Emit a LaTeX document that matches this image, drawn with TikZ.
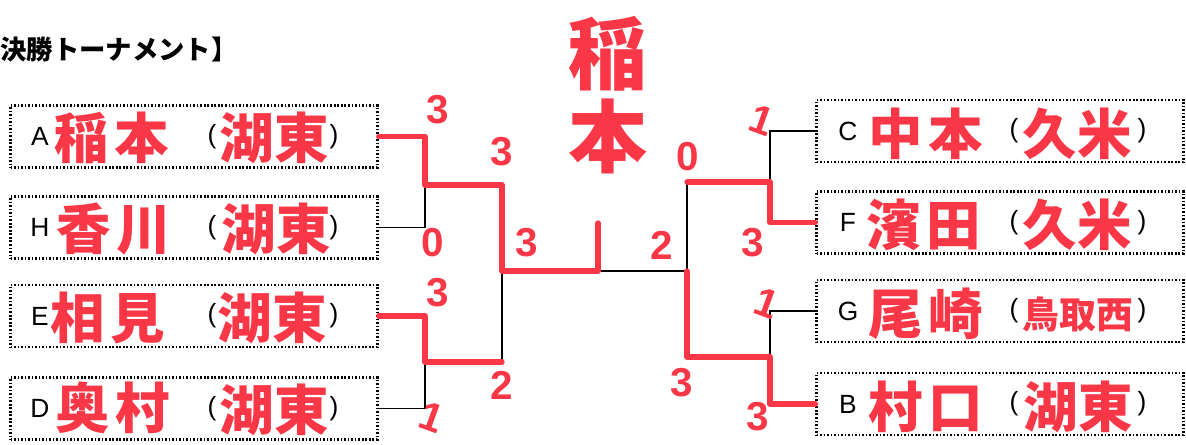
\documentclass[tikz,border=0pt]{standalone}
\usepackage{fontspec}
\setmainfont{Liberation Sans}
\newfontfamily\jpfont{Noto Sans CJK JP}
\usetikzlibrary{positioning}
\definecolor{pen}{RGB}{250,55,70}

\begin{document}
\begin{tikzpicture}[x=0.02cm, y=-0.02cm,
  box/.style={draw, line width=1.4pt, dash pattern=on 0.9pt off 1.1pt,
    minimum width=7.34cm, minimum height=1.24cm, inner sep=0pt},
  seed/.style={font=\fontsize{15}{15}\selectfont, inner sep=0pt},
  paren/.style={font=\fontsize{15}{15}\selectfont, inner sep=0pt},
  hand/.style={text=pen, font=\jpfont\bfseries\fontsize{31}{31}\selectfont, inner sep=0pt},
  score/.style={text=pen, font=\bfseries\fontsize{23}{23}\selectfont, inner sep=0pt},
  wire/.style={line width=0.7pt},
  win/.style={draw=pen, line width=3pt, line cap=round, line join=round}]
\useasboundingbox (0,0) rectangle (1186,444);
% heading
\node[anchor=west, inner sep=0pt, font=\jpfont\bfseries\fontsize{15}{15}\selectfont]
  (title) at (0,50) {決勝トーナメント】};
% entry boxes, left side
\node[box] (boxA) at (194,136.5) {};
\node[box] (boxH) at (194,227.5) {};
\node[box] (boxE) at (194,316) {};
\node[box] (boxD) at (194,408.5) {};
% entry boxes, right side
\node[box] (boxC) at (1000,131) {};
\node[box] (boxF) at (1000,222.5) {};
\node[box] (boxG) at (1000,311) {};
\node[box] (boxB) at (1000,404) {};
% printed seeds and brackets
\node[seed] (labA) at (40,136.5) {A};
\node[seed] (labH) at (40,227.5) {H};
\node[seed] (labE) at (40,316) {E};
\node[seed] (labD) at (40,408.5) {D};
\node[seed] (labC) at (848,131) {C};
\node[seed] (labF) at (848,222.5) {F};
\node[seed] (labG) at (848,311) {G};
\node[seed] (labB) at (848,404) {B};
\foreach \b/\y in {A/136.5, H/227.5, E/316, D/408.5} {
  \node[paren] (opn\b) at (212,\y) {(};
  \node[paren] (cls\b) at (334,\y) {)};
}
\foreach \b/\y in {C/131, F/222.5, G/311, B/404} {
  \node[paren] (opn\b) at (1014,\y) {(};
  \node[paren] (cls\b) at (1142,\y) {)};
}
% junctions of the draw
\coordinate (qa) at (425,185);
\coordinate (qb) at (425,362);
\coordinate (sl) at (502,271);
\coordinate (cup) at (598,223);
\coordinate (sr) at (687,271);
\coordinate (qc) at (770,182);
\coordinate (qd) at (770,357);
\draw[wire] (boxA.east) -| (qa) |- (boxH.east);
\draw[wire] (boxE.east) -| (qb) |- (boxD.east);
\draw[wire] (qa) -| (sl) |- (qb);
\draw[wire] (sl) -- (sr);
\draw[wire] (sl -| cup) -- (cup);
\draw[wire] (boxC.west) -| (qc) |- (boxF.west);
\draw[wire] (boxG.west) -| (qd) |- (boxB.west);
\draw[wire] (qc) -| (sr) |- (qd);
% results written in by hand
\draw[win] (boxA.east) -| (qa) -| (sl) -- (sl -| cup) -- (cup);
\draw[win] (boxE.east) -| (qb) -- (qb -| sl);
\draw[win] (boxF.west) -| (qc) -- (qc -| sr);
\draw[win] (boxB.west) -| (qd) -| (sr);
\node[hand, anchor=west] (nameA) at (54,138) {稲\hspace{3pt}本};
\node[hand] (schA) at (274,138) {湖東};
\node[hand, anchor=west] (nameH) at (56,229) {香\hspace{3pt}川};
\node[hand] (schH) at (276,229) {湖東};
\node[hand, anchor=west] (nameE) at (50,318) {相\hspace{3pt}見};
\node[hand] (schE) at (272,318) {湖東};
\node[hand, anchor=west] (nameD) at (55,408) {奥\hspace{3pt}村};
\node[hand] (schD) at (274,410) {湖東};
\node[hand, anchor=west] (nameC) at (868,134) {中\hspace{3pt}本};
\node[hand] (schC) at (1077,134) {久米};
\node[hand, anchor=west] (nameF) at (866,225) {濱\hspace{3pt}田};
\node[hand] (schF) at (1077,225) {久米};
\node[hand, anchor=west] (nameG) at (868,314) {尾\hspace{3pt}崎};
\node[hand, font=\jpfont\bfseries\fontsize{21}{21}\selectfont] (schG) at (1078,314) {鳥取西};
\node[hand, anchor=west] (nameB) at (868,407) {村\hspace{3pt}口};
\node[hand] (schB) at (1078,407) {湖東};
\node[hand, font=\jpfont\bfseries\fontsize{45}{45}\selectfont, align=center]
  (champ) at (608,95) {稲\\[2pt]本};
\node[score] (s1) at (438,110) {3};
\node[score] (s2) at (502,152) {3};
\node[score] (s3) at (433,243) {0};
\node[score] (s4) at (438,293) {3};
\node[score, rotate=-20] (s5) at (432,417) {1};
\node[score] (s6) at (502,385) {2};
\node[score] (s7) at (527,243) {3};
\node[score] (s8) at (688,157) {0};
\node[score] (s9) at (662,245) {2};
\node[score] (s10) at (682,383) {3};
\node[score, rotate=-20] (s11) at (762,120) {1};
\node[score] (s12) at (753,243) {3};
\node[score, rotate=-20] (s13) at (767,303) {1};
\node[score] (s14) at (758,417) {3};
\end{tikzpicture}
\end{document}
